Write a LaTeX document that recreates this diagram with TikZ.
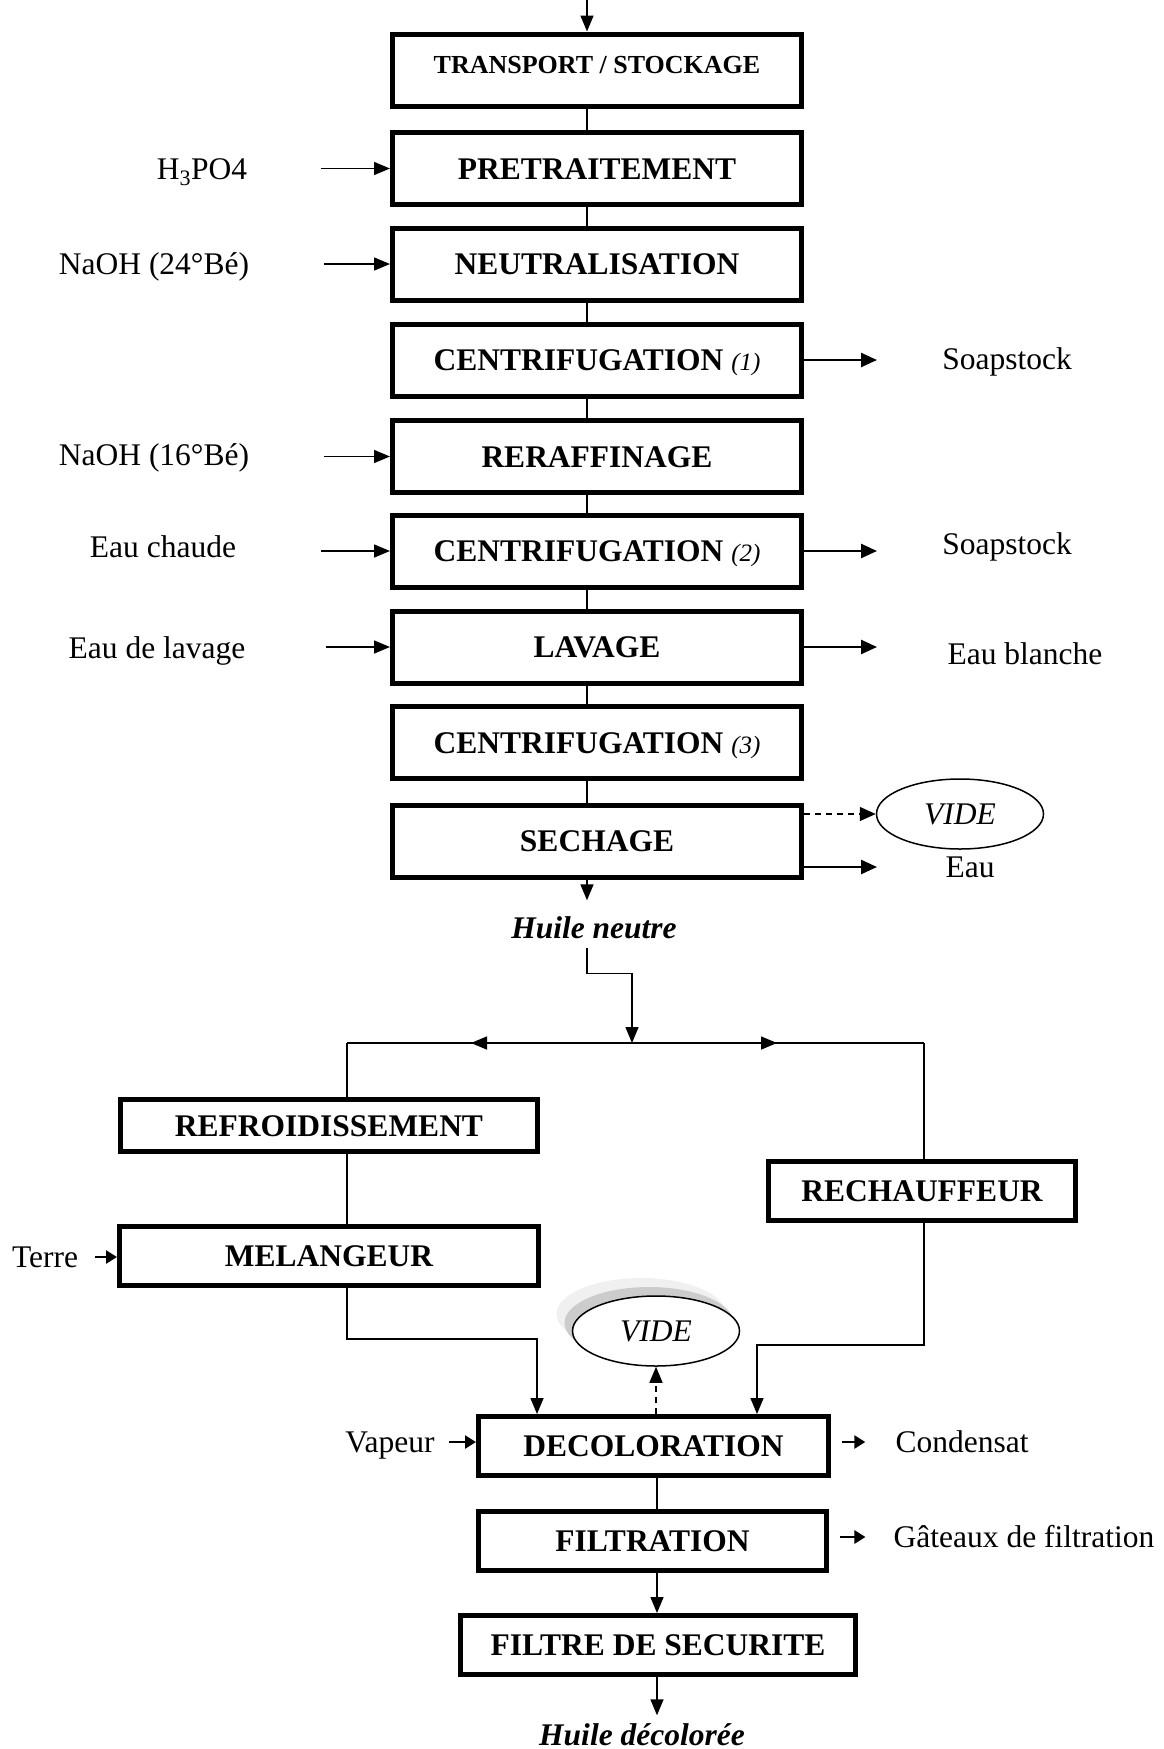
\documentclass[tikz,border=0pt]{standalone}
\usepackage{fontspec}
\setmainfont{Liberation Serif}
\usetikzlibrary{positioning, arrows.meta, shapes.geometric, calc}

\newcommand{\txtgros}{\fontsize{31.5}{37}\selectfont}

\tikzset{
  etape/.style={draw, line width=5pt, minimum width=409pt, minimum height=72pt, inner sep=0pt, text height=21pt, text depth=0pt, font=\bfseries\txtgros},
  petape/.style={draw, line width=5pt, minimum height=59pt, inner sep=0pt, text height=21pt, text depth=0pt, font=\bfseries\txtgros},
  lab/.style={inner sep=0pt, text height=21pt, text depth=0pt, font=\txtgros},
  bulle/.style={ellipse, draw, line width=1.5pt, fill=white, minimum width=167pt, minimum height=70pt, inner sep=0pt, text height=21pt, text depth=0pt, font=\itshape\txtgros},
  lien/.style={line width=1.5pt},
  fl/.style={lien, -{Triangle[length=16pt, width=13pt]}},
  flg/.style={line width=2.5pt, -{Triangle[length=16pt, width=14pt]}},
  flc/.style={line width=2.5pt, -{Triangle[length=11pt, width=13pt]}}
}
\newcommand{\numcent}[1]{{\mdseries\itshape\fontsize{25}{30}\selectfont (#1)}}

\begin{document}
\begin{tikzpicture}[x=1pt, y=-1pt]
\useasboundingbox (0,0) rectangle (1163,1749);

% Raffinage chimique
\coordinate (colonne) at (587,0);
\node[etape, font=\bfseries\fontsize{26}{30}\selectfont, text height=17pt, text depth=10pt] (transport) at (597,70) {TRANSPORT / STOCKAGE};
\node[etape] (pretrait) at (597,168.5) {PRETRAITEMENT};
\node[etape] (neutral) at (597,264) {NEUTRALISATION};
\node[etape] (centrifA) at (597,360) {CENTRIFUGATION \numcent{1}};
\node[etape] (reraff) at (597,456.5) {RERAFFINAGE};
\node[etape] (centrifB) at (597,551) {CENTRIFUGATION \numcent{2}};
\node[etape] (lavage) at (597,647) {LAVAGE};
\node[etape] (centrifC) at (597,742.5) {CENTRIFUGATION \numcent{3}};
\node[etape] (sechage) at (597,841) {SECHAGE};

\draw[fl] (colonne) -- (transport.north -| colonne);
\draw[lien] (transport.south -| colonne) -- (pretrait.north -| colonne);
\draw[lien] (pretrait.south -| colonne) -- (neutral.north -| colonne);
\draw[lien] (neutral.south -| colonne) -- (centrifA.north -| colonne);
\draw[lien] (centrifA.south -| colonne) -- (reraff.north -| colonne);
\draw[lien] (reraff.south -| colonne) -- (centrifB.north -| colonne);
\draw[lien] (centrifB.south -| colonne) -- (lavage.north -| colonne);
\draw[lien] (lavage.south -| colonne) -- (centrifC.north -| colonne);
\draw[lien] (centrifC.south -| colonne) -- (sechage.north -| colonne);

% Entrees
\node[lab] (h3po4) at (202,169) {H\textsubscript{3}PO4};
\node[lab] (naohA) at (154,264) {NaOH (24°Bé)};
\node[lab] (naohB) at (154,455) {NaOH (16°Bé)};
\node[lab] (eauch) at (163,547) {Eau chaude};
\node[lab] (eaulav) at (157,648) {Eau de lavage};
\draw[fl] ([xshift=-69pt]pretrait.west) -- (pretrait.west);
\draw[fl] ([xshift=-66pt]neutral.west) -- (neutral.west);
\draw[fl] ([xshift=-66pt]reraff.west) -- (reraff.west);
\draw[fl] ([xshift=-69pt]centrifB.west) -- (centrifB.west);
\draw[fl] ([xshift=-64pt]lavage.west) -- (lavage.west);

% Sorties
\node[lab] (soapA) at (1007,359) {Soapstock};
\node[lab] (soapB) at (1007,544) {Soapstock};
\node[lab] (eaubl) at (1025,654) {Eau blanche};
\node[bulle] (videA) at (960,814) {VIDE};
\node[lab] (eau) at (970,867) {Eau};
\draw[flg] (centrifA.east) -- ++(73,0);
\draw[flg] (centrifB.east) -- ++(73,0);
\draw[flg] (lavage.east) -- ++(73,0);
\draw[flg, line width=1.5pt, dash pattern=on 6pt off 5pt] ([yshift=27pt]sechage.east) -- (videA.west);
\draw[flg] ([yshift=-26pt]sechage.east) -- ++(73,0);

\node[lab, font=\bfseries\itshape\txtgros] (hneutre) at (594,928) {Huile neutre};
\draw[fl] (sechage.south -| colonne) -- ($(hneutre.north -| colonne)+(0,-17)$);

% Decoloration
\coordinate (bif) at (632,1043);
\coordinate (bifG) at (347,1043);
\coordinate (bifD) at (924,1043);
\coordinate (axeD) at (657,0);

\node[petape, minimum width=417pt, minimum height=52pt] (refroid) at (329,1125.5) {REFROIDISSEMENT};
\node[petape, minimum width=419pt] (melang) at (329,1256) {MELANGEUR};
\node[petape, minimum width=307pt] (rechauf) at (922,1191) {RECHAUFFEUR};
\node[petape, minimum width=350pt] (decolor) at (653.5,1446) {DECOLORATION};
\node[petape, minimum width=348pt] (filtration) at (652.5,1541) {FILTRATION};
\node[petape, minimum width=395pt] (filtresec) at (658,1645) {FILTRE DE SECURITE};

\draw[fl] ($(hneutre.south -| colonne)+(0,9)$) -- ++(0,26) -| (bif);
\draw[lien] (bifG) -- (bifD);
\draw[fl] (bif) -- ($(bif)+(-161,0)$);
\draw[fl] (bif) -- ($(bif)+(145,0)$);
\draw[lien] (bifG) -- (refroid.north -| bifG);
\draw[lien] (bifD) -- (rechauf.north -| bifD);
\draw[lien] (refroid.south -| bifG) -- (melang.north -| bifG);
\draw[fl] (melang.south -| bifG) -- ++(0,51) -| ($(decolor.north west)+(61,0)$);
\draw[fl] (rechauf.south -| bifD) -- ++(0,122) -| ($(decolor.north east)+(-74,0)$);

% vide avec ombre
\fill[gray!12] (641,1314) ellipse (84.5pt and 36pt);
\fill[gray!40] (649,1323) ellipse (84.5pt and 36pt);
\node[bulle] (videB) at (656,1331) {VIDE};
\draw[fl, dash pattern=on 6pt off 5pt] (videB.south |- decolor.north) -- (videB.south);

\node[lab] (terre) at (45,1257) {Terre};
\node[lab] (vapeur) at (390,1442) {Vapeur};
\node[lab] (condens) at (962,1442) {Condensat};
\node[lab] (gateaux) at (1024,1537) {Gâteaux de filtration};
\draw[flc] ($(terre.east)+(17,0)$) -- (melang.west |- terre.east);
\draw[flc] ($(vapeur.east)+(14,0)$) -- (decolor.west |- vapeur.east);
\draw[flc] ($(decolor.east |- condens.west)+(11,0)$) -- ($(condens.west)+(-30,0)$);
\draw[flc] ($(filtration.east |- gateaux.west)+(11,0)$) -- ($(gateaux.west)+(-28,0)$);

\draw[lien] (decolor.south -| axeD) -- (filtration.north -| axeD);
\draw[fl] (filtration.south -| axeD) -- (filtresec.north -| axeD);
\node[lab, font=\bfseries\itshape\txtgros] (hdecol) at (642,1735) {Huile décolorée};
\draw[fl] (filtresec.south -| axeD) -- ($(hdecol.north -| axeD)+(0,-9)$);
\end{tikzpicture}
\end{document}
